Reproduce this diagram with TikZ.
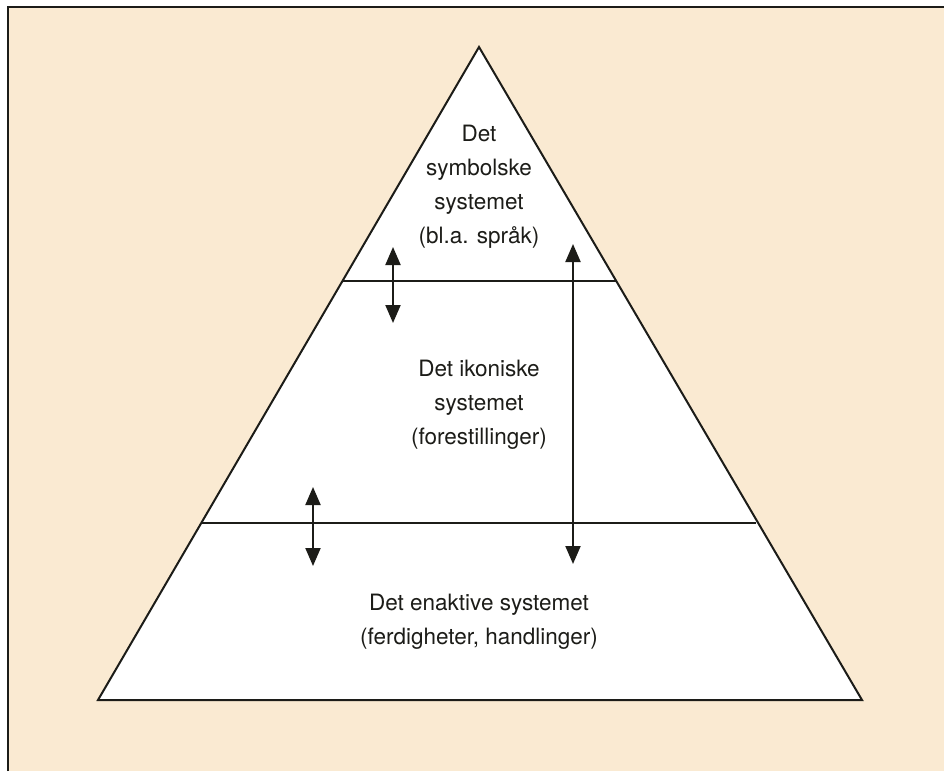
\documentclass[tikz,border=0pt]{standalone}
\usepackage{fontspec}
\setmainfont{TeX Gyre Heros}
\usetikzlibrary{arrows.meta}
\definecolor{paper}{RGB}{250,234,210}
\definecolor{ink}{RGB}{28,28,24}
\tikzset{
  edge/.style={draw=ink, line width=2pt, line join=miter},
  divider/.style={draw=ink, line width=1.8pt},
  twoway/.style={draw=ink, line width=2pt, {Triangle[length=18pt,width=15pt]}-{Triangle[length=18pt,width=15pt]}},
  label/.style={text=ink, align=center, font=\fontsize{22.5}{34}\selectfont}
}
\begin{document}
\begin{tikzpicture}[x=1pt,y=-1pt]
\useasboundingbox (0,0) rectangle (944,771);
% framed panel, running off the right and bottom edges
\fill[white] (0,0) rectangle (944,771);
\fill[paper] (8,7) rectangle (944,771);
\draw[ink, line width=2pt] (8,771) -- (8,7) -- (944,7);
% pyramid
\coordinate (apex) at (479,47);
\coordinate (bl) at (98,700);
\coordinate (br) at (862,700);
\filldraw[edge, fill=white] (apex) -- (bl) -- (br) -- cycle;
% level dividers
\coordinate (d1l) at (342,281);
\coordinate (d1r) at (616,281);
\coordinate (d2l) at (202,523);
\coordinate (d2r) at (756,523);
\draw[divider] (d1l) -- (d1r);
\draw[divider] (d2l) -- (d2r);
% interaction arrows
\coordinate (a1t) at (393,247);
\coordinate (a1b) at (393,323);
\coordinate (a2t) at (573,244);
\coordinate (a2b) at (573,564);
\coordinate (a3t) at (313,487);
\coordinate (a3b) at (313,566);
\draw[twoway] (a1t) -- (a1b);
\draw[twoway] (a2t) -- (a2b);
\draw[twoway] (a3t) -- (a3b);
% level labels
\node[label] (sym) at (479,187) {Det\\symbolske\\systemet\\(bl.a. språk)};
\node[label] (iko) at (479,405) {Det ikoniske\\systemet\\(forestillinger)};
\node[label] (ena) at (479,622) {Det enaktive systemet\\(ferdigheter, handlinger)};
\end{tikzpicture}
\end{document}
